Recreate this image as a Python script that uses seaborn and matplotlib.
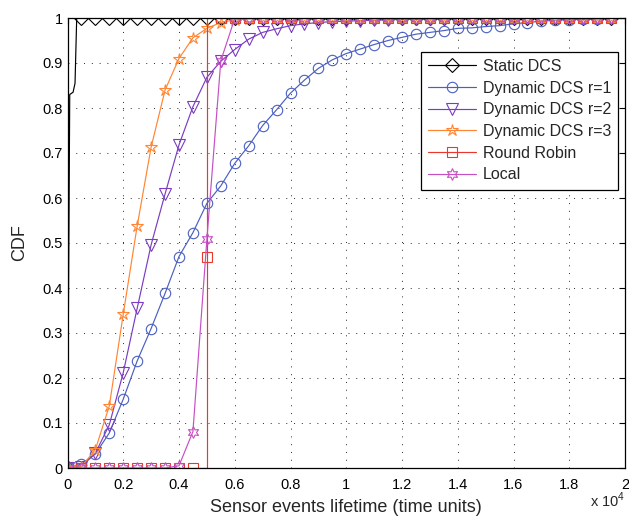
import matplotlib
matplotlib.use("Agg")
import matplotlib.pyplot as plt
import seaborn as sns

# marker positions on the x axis (x 10^4 time units)
X_GRID = [0.0, 0.05, 0.1, 0.15, 0.2, 0.25, 0.3, 0.35, 0.4, 0.45,
          0.5, 0.55, 0.6, 0.65, 0.7, 0.75, 0.8, 0.85, 0.9, 0.95,
          1.0, 1.05, 1.1, 1.15, 1.2, 1.25, 1.3, 1.35, 1.4, 1.45,
          1.5, 1.55, 1.6, 1.65, 1.7, 1.75, 1.8, 1.85, 1.9, 1.95, 2.0]

# CDF values read at each grid position
STATIC = [0.0] + [1.0] * 40
# static DCS jumps up within the first 500 time units
STATIC_RISE_X = [0.008, 0.02, 0.027, 0.033]
STATIC_RISE_Y = [0.83, 0.835, 0.855, 1.0]

DYN_R1 = [0.0, 0.009, 0.031, 0.078, 0.153, 0.238, 0.310, 0.388, 0.470, 0.523,
          0.588, 0.627, 0.677, 0.716, 0.761, 0.796, 0.833, 0.862, 0.888, 0.907,
          0.921, 0.931, 0.941, 0.950, 0.957, 0.964, 0.968, 0.972, 0.977, 0.978,
          0.981, 0.983, 0.987, 0.990, 0.993, 0.995, 0.996, 0.997, 0.998, 0.999,
          1.0]
DYN_R2 = [0.0, 0.003, 0.033, 0.096, 0.212, 0.355, 0.496, 0.609, 0.718, 0.803,
          0.868, 0.904, 0.930, 0.953, 0.968, 0.976, 0.983, 0.987, 0.990, 0.992,
          0.993, 0.994, 0.995, 0.996, 0.997, 0.997, 0.998, 0.998, 0.999, 0.999,
          0.999] + [1.0] * 10
DYN_R3 = [0.0, 0.003, 0.041, 0.138, 0.342, 0.538, 0.713, 0.840, 0.910, 0.956,
          0.977, 0.990, 0.996, 0.998, 0.999] + [1.0] * 26
ROUND_ROBIN = [0.0] * 10 + [0.47] + [1.0] * 30
LOCAL = [0.0] * 8 + [0.005, 0.081, 0.508, 0.905, 0.999] + [1.0] * 28

XTICKS = [0, 0.2, 0.4, 0.6, 0.8, 1.0, 1.2, 1.4, 1.6, 1.8, 2.0]
XTICK_LABELS = ["0", "0.2", "0.4", "0.6", "0.8", "1", "1.2", "1.4", "1.6", "1.8", "2"]
YTICKS = [0, 0.1, 0.2, 0.3, 0.4, 0.5, 0.6, 0.7, 0.8, 0.9, 1.0]
YTICK_LABELS = ["0", "0.1", "0.2", "0.3", "0.4", "0.5", "0.6", "0.7", "0.8", "0.9", "1"]

sns.set_style("white")
plt.rcParams["font.family"] = ["Liberation Sans", "DejaVu Sans"]
plt.rcParams["mathtext.fontset"] = "custom"
plt.rcParams["mathtext.rm"] = "Liberation Sans"


def draw(ax, x, y, marks, name, color, marker, ms):
    sns.lineplot(x=x, y=y, ax=ax, estimator=None, sort=False,
                 color=color, linewidth=0.85, label=name,
                 marker=marker, markevery=marks, markersize=ms,
                 markerfacecolor="none", markeredgecolor=color,
                 markeredgewidth=0.8)


fig = plt.figure(figsize=(6.29, 5.21), dpi=100)
ax = fig.add_axes([67.5 / 629, 1 - 468 / 521, 557.5 / 629, 450 / 521])

n = len(X_GRID)
last = n - 1  # no marker drawn on the right border

# static DCS: grid + the early rise
sx = X_GRID[:1] + STATIC_RISE_X + X_GRID[1:]
sy = STATIC[:1] + STATIC_RISE_Y + STATIC[1:]
k = len(STATIC_RISE_X)
draw(ax, sx, sy, [0] + list(range(k + 1, k + last)), "Static DCS", "black", "D", 7.5)

grid_marks = list(range(last))
draw(ax, X_GRID, DYN_R1, grid_marks, "Dynamic DCS r=1", "#4a5fc1", "o", 7.5)
draw(ax, X_GRID, DYN_R2, grid_marks, "Dynamic DCS r=2", "#7a3cc2", "v", 8)
draw(ax, X_GRID, DYN_R3, grid_marks, "Dynamic DCS r=3", "#ff8533", "*", 9)

# round robin: vertical jump at 0.5
j = X_GRID.index(0.5)
rx = X_GRID[:j] + [0.5] + X_GRID[j:j + 1] + [0.5] + X_GRID[j + 1:]
ry = ROUND_ROBIN[:j] + [0.0] + ROUND_ROBIN[j:j + 1] + [1.0] + ROUND_ROBIN[j + 1:]
rr_marks = list(range(j)) + [j + 1] + list(range(j + 3, j + 2 + last - j))
draw(ax, rx, ry, rr_marks, "Round Robin", "#e8392f", "s", 7)

draw(ax, X_GRID, LOCAL, grid_marks, "Local", "#c64fc4", (6, 1, 0), 8.5)

ax.set_xlim(0, 2)
ax.set_ylim(0, 1)
ax.set_xticks(XTICKS)
ax.set_xticklabels(XTICK_LABELS)
ax.set_yticks(YTICKS)
ax.set_yticklabels(YTICK_LABELS)
ax.tick_params(direction="in", top=True, right=True, length=4, width=0.8,
               labelsize=10.5, colors="black")
ax.tick_params(axis="x", pad=7)
ax.grid(True, color="0.15", linestyle=(0, (1, 7)), linewidth=0.7)
for sp in ax.spines.values():
    sp.set_color("black")
    sp.set_linewidth(0.9)

ax.set_xlabel("Sensor events lifetime (time units)", fontsize=13, labelpad=5)
ax.set_ylabel("CDF", fontsize=13, labelpad=10)
fig.text(625 / 629, 1 - 507 / 521, r"x 10$^{4}$", ha="right", va="baseline", fontsize=10.5)

leg = ax.legend(loc="upper right", bbox_to_anchor=(618.3 / 629, 1 - 51.7 / 521),
                bbox_transform=fig.transFigure, borderaxespad=0, fontsize=11.5,
                handlelength=3.0, handletextpad=0.4, labelspacing=0.42,
                borderpad=0.45, fancybox=False, framealpha=1, edgecolor="black")
leg.get_frame().set_linewidth(0.9)

fig.savefig("out.png", dpi=100)
